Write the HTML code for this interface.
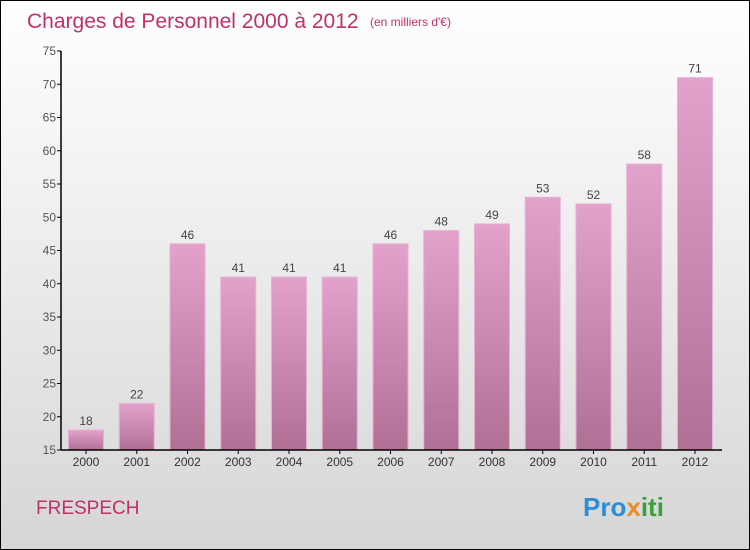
<!DOCTYPE html>
<html><head><meta charset="utf-8"><style>
body{margin:0}
#c{width:750px;height:550px;position:relative;overflow:hidden}
</style></head><body>
<div id="c">
<svg id="s" width="750" height="550" xmlns="http://www.w3.org/2000/svg" font-family="Liberation Sans, sans-serif">
<defs>
<linearGradient id="bg" x1="0" y1="0" x2="0" y2="1"><stop offset="0" stop-color="#ffffff"/><stop offset="1" stop-color="#d6d6d6"/></linearGradient>
<linearGradient id="bar" x1="0" y1="0" x2="0" y2="1"><stop offset="0" stop-color="#e2a2cb"/><stop offset="1" stop-color="#b07096"/></linearGradient>
</defs>
<rect x="0.5" y="0.5" width="749" height="549" fill="url(#bg)" stroke="#000"/>
<text x="27" y="28" font-size="21" fill="#c0306a">Charges de Personnel 2000 à 2012</text>
<text x="370" y="26" font-size="12" fill="#c0306a">(en milliers d'€)</text>
<text x="36" y="514" font-size="19" fill="#c0306a">FRESPECH</text>
<text x="583" y="516" font-size="26" font-weight="bold"><tspan fill="#2a8fd8">Pro</tspan><tspan fill="#f08a1c">x</tspan><tspan fill="#3aa03a">iti</tspan></text>
<g id="g"></g>
</svg>
</div>
<script>
const categories=["2000","2001","2002","2003","2004","2005","2006","2007","2008","2009","2010","2011","2012"];
const values=[18,22,46,41,41,41,46,48,49,53,52,58,71];
const yTicks=[15,20,25,30,35,40,45,50,55,60,65,70,75];
const NS="http://www.w3.org/2000/svg";
const g=document.getElementById('g');
const yMin=15,yMax=75,y0=450,y1=51,axisX=61;
function y(v){return y0-(v-yMin)/(yMax-yMin)*(y0-y1);}
function x(i){return 86+i*50.75;}
function mk(t,a,txt){const e=document.createElementNS(NS,t);for(const k in a)e.setAttribute(k,a[k]);if(txt!==undefined)e.textContent=txt;g.appendChild(e);return e;}
categories.forEach((c,i)=>{
 const r=mk('rect',{x:x(i)-17.5,y:y(values[i]),width:35,height:y0-y(values[i]),fill:'url(#bar)',stroke:'#e8b0d4','stroke-width':1});
 
 
 const l=mk('text',{x:x(i),y:y(values[i])-5,'text-anchor':'middle','font-size':12,fill:'#444'},values[i]);
 
 
 const t=mk('text',{x:x(i),y:466,'text-anchor':'middle','font-size':12,fill:'#333'},c);
 
 
 const tk=mk('line',{x1:x(i),x2:x(i),y1:y0,y2:y0+4,stroke:'#000'});
 
 
});
yTicks.forEach(v=>{
 const t=mk('text',{x:axisX-5,y:y(v)+4,'text-anchor':'end','font-size':12,fill:'#555'},v);
 
 
 const tk=mk('line',{x1:axisX-4,x2:axisX,y1:y(v),y2:y(v),stroke:'#000'});
 
 
});
const ya=mk('line',{x1:axisX,x2:axisX,y1:y1,y2:y0,stroke:'#000','stroke-width':1.5});


const xa=mk('line',{x1:axisX,x2:722,y1:y0,y2:y0,stroke:'#000','stroke-width':1.5});


</script>
</body></html>
